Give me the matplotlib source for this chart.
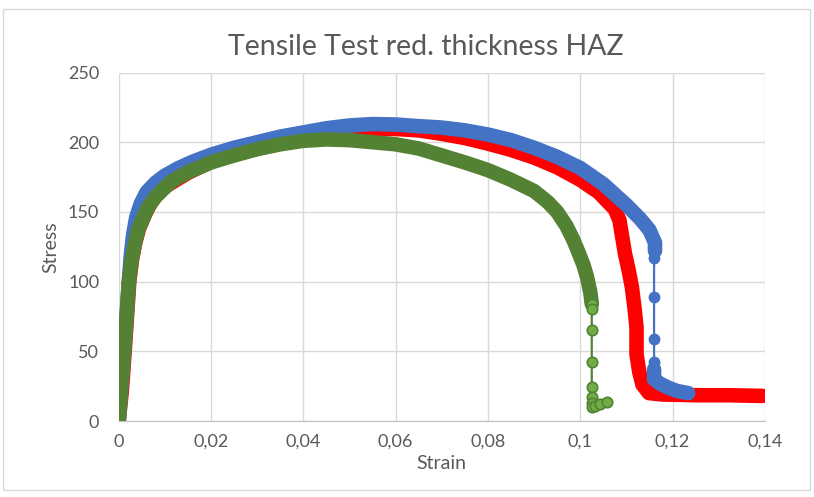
import matplotlib
matplotlib.use("Agg")
import matplotlib.pyplot as plt
from matplotlib.ticker import FuncFormatter, MultipleLocator
from matplotlib.patches import Rectangle

plt.rcParams['font.family'] = ['Lato', 'DejaVu Sans']

# values (strain, stress)
red_strain = [0, 0.0007, 0.0013, 0.0018, 0.0023, 0.0029, 0.0036, 0.0044, 0.0058, 0.0072,
              0.010, 0.015,
              0.020, 0.025, 0.030, 0.035, 0.040, 0.045, 0.050, 0.055, 0.060, 0.065,
              0.070, 0.075, 0.080, 0.085, 0.090, 0.095, 0.100, 0.104, 0.1075, 0.1085,
              0.1092, 0.1097, 0.1105, 0.1112, 0.1118, 0.1122, 0.1122, 0.1128, 0.1135,
              0.1149, 0.118, 0.125, 0.132, 0.1395]
red_stress = [0, 22, 50, 75, 100, 116, 128, 138, 149, 158,
              168, 178,
              186, 192, 197, 201, 204.5, 207, 208.5, 209.5, 209.5, 208.5,
              206, 203, 199, 194.5, 189, 182, 173, 164, 152, 144,
              130, 120, 108, 96, 80, 67, 48, 35, 26,
              20, 19, 18.5, 18.5, 18]

blue_strain = [0, 0.0006, 0.0012, 0.0018, 0.0022, 0.0026, 0.0031, 0.0038, 0.0048, 0.006,
               0.008, 0.010, 0.013, 0.016, 0.020, 0.025, 0.030, 0.035, 0.040, 0.045,
               0.050, 0.055, 0.060, 0.065, 0.070, 0.075, 0.080, 0.085, 0.090, 0.095,
               0.100, 0.105, 0.110, 0.113, 0.115, 0.1162, 0.1162]
blue_stress = [-1, 25, 52, 80, 100, 118, 133, 146, 156, 164,
               171, 176, 181.5, 186, 191, 196, 200, 204, 207, 210,
               212, 213, 212.7, 211.5, 210.5, 208.5, 205.5, 201.5, 196, 189.5,
               181.5, 170, 155, 145, 137, 128, 122]
blue_drop_strain = [0.1160, 0.1160, 0.1160, 0.1160, 0.1160]
blue_drop_stress = [117, 89, 59, 42, 37]
blue_tail_strain = [0.1160, 0.1160, 0.1172, 0.119, 0.121, 0.1234]
blue_tail_stress = [37, 30, 27, 24, 21.5, 20]

green_strain = [0, 0.0005, 0.0012, 0.0017, 0.0022, 0.0028, 0.0035, 0.0042, 0.0055, 0.0064,
                0.008, 0.0115, 0.015, 0.020, 0.025, 0.030, 0.035, 0.040, 0.045, 0.050,
                0.055, 0.060, 0.065, 0.070, 0.075, 0.080, 0.085, 0.090, 0.093, 0.095,
                0.097, 0.0985, 0.0995, 0.1007, 0.1015, 0.1022, 0.1025]
green_stress = [0, 22, 50, 75, 100, 115, 127, 137, 147, 153.5,
                161, 172, 178.5, 185.5, 190.5, 195, 198.5, 201, 202, 201.5,
                200, 198.5, 195.5, 190.5, 185.5, 180, 173, 165, 157, 150,
                140, 130, 122, 112, 103, 92, 84]
green_drop_strain = [0.1025, 0.1025, 0.1025, 0.1025, 0.1025, 0.1025, 0.1025, 0.1032, 0.1042, 0.1057]
green_drop_stress = [80, 65, 42.5, 24.5, 17, 13, 10, 11, 12.5, 13.8]

RED = '#FF0000'
BLUE = '#4472C4'
GREEN = '#548235'
GREEN_LIGHT = '#70AD47'
TEXT = '#595959'
band = 10.5

fig = plt.figure(figsize=(8.14, 4.97), dpi=100)
fig.patches.append(Rectangle((0.004, 0.014), 0.991, 0.968, transform=fig.transFigure,
                             fill=False, edgecolor='#D9D9D9', lw=1))
ax = fig.add_axes([0.1458, 0.1529, 0.7938, 0.7012])

# red series
ax.plot(red_strain, red_stress, color=RED, lw=band, solid_capstyle='round',
        solid_joinstyle='round')

# blue series
ax.plot(blue_strain, blue_stress, color=BLUE, lw=band, solid_capstyle='round',
        solid_joinstyle='round')
ax.plot([blue_strain[-1]] + blue_drop_strain, [blue_stress[-1]] + blue_drop_stress,
        '-o', color=BLUE, lw=1.6, ms=7.5, mfc=BLUE, mec=BLUE)
ax.plot(blue_tail_strain, blue_tail_stress, color=BLUE, lw=band, solid_capstyle='round',
        solid_joinstyle='round')

# green series
ax.plot(green_strain, green_stress, color=GREEN, lw=band, solid_capstyle='round',
        solid_joinstyle='round')
ax.plot([green_strain[-1]] + green_drop_strain, [green_stress[-1]] + green_drop_stress,
        '-o', color=GREEN, lw=1.6, ms=7.5, mfc=GREEN_LIGHT, mec=GREEN, mew=1.2)

ax.set_xlim(0, 0.14)
ax.set_ylim(0, 250)
ax.xaxis.set_major_locator(MultipleLocator(0.02))
ax.yaxis.set_major_locator(MultipleLocator(50))
ax.xaxis.set_major_formatter(FuncFormatter(lambda v, p: f"{round(v, 4):g}".replace('.', ',')))
ax.grid(True, color='#D9D9D9', lw=1)
ax.set_axisbelow(True)
for s in ['top', 'right', 'left']:
    ax.spines[s].set_visible(False)
ax.spines['bottom'].set_color('#BFBFBF')
ax.tick_params(length=0, labelsize=13, labelcolor=TEXT)
ax.tick_params(axis='y', pad=14)
ax.tick_params(axis='x', pad=9)

ax.set_xlabel('Strain', fontsize=14, color=TEXT, labelpad=4)
ax.set_ylabel('Stress', fontsize=14, color=TEXT, labelpad=6)
fig.text(0.5235, 0.905, 'Tensile Test red. thickness HAZ', ha='center', va='center',
         fontsize=20.5, color=TEXT)

fig.savefig('out.png', dpi=100)
